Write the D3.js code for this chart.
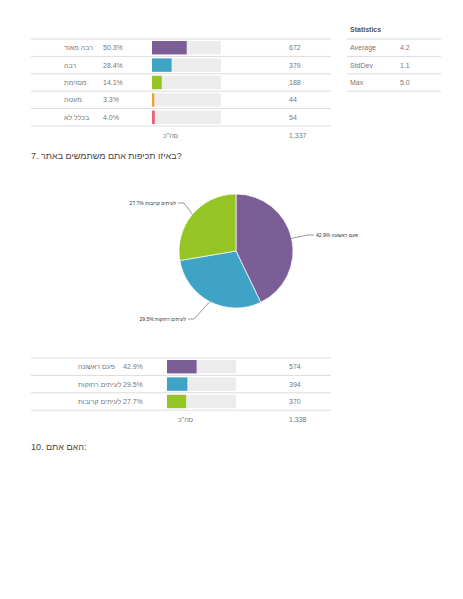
<!DOCTYPE html><html><head><meta charset="utf-8"><script src="https://cdn.jsdelivr.net/npm/d3@7"></script>
<style>body{margin:0;background:#fff}text{font-family:"Liberation Sans",Arial,sans-serif}</style></head><body><svg id="c" width="463" height="599"></svg>
<script>
const q6Labels=["רבה מאוד","רבה","מסוימת","מעטה","בכלל לא"];
const q6Pct=[50.3,28.4,14.1,3.3,4.0];
const q6Count=[672,379,188,44,54];
const q6Total="1,337";
const q6Colors=["#7b5e96","#3ea3c5","#95c425","#f0a030","#e8607a"];
const statLabels=["Average","StdDev","Max"];
const statValues=["4.2","1.1","5.0"];
const q7Labels=["פעם ראשונה","לעיתים רחוקות","לעיתים קרובות"];
const q7Pct=[42.9,29.5,27.7];
const q7Count=[574,394,370];
const q7Total="1,338";
const q7Colors=["#7b5e96","#3ea3c5","#95c425"];

const svg=d3.select("#c");
const grey="#777",line="#dcdcdc";
function table(y0,labels,pct,count,colors,total,labelX,pctX,barX){
  const y=d3.scaleBand().domain(d3.range(labels.length)).range([y0,y0+labels.length*17.4]);
  const w=d3.scaleLinear().domain([0,100]).range([0,69]);
  const g=svg.append("g");
  g.append("line").attr("x1",31).attr("x2",331).attr("y1",y0).attr("y2",y0).attr("stroke",line);
  labels.forEach((l,i)=>{
    const yy=y(i),bh=y.bandwidth();
    g.append("text").attr("x",labelX).attr("y",yy+bh/2+2.5).attr("text-anchor","end").attr("direction","rtl").attr("font-size",7).attr("fill",grey).text(l);
    g.append("text").attr("x",pctX).attr("y",yy+bh/2+2.5).attr("font-size",7).attr("fill",grey).text(pct[i].toFixed(1)+"%");
    g.append("rect").attr("x",barX).attr("y",yy+2).attr("width",69).attr("height",bh-4).attr("fill","#ececec");
    g.append("rect").attr("x",barX).attr("y",yy+2).attr("width",w(pct[i])).attr("height",bh-4).attr("fill",colors[i]);
    g.append("text").attr("x",289).attr("y",yy+bh/2+2.5).attr("font-size",7).attr("fill",grey).text(count[i]);
    g.append("line").attr("x1",31).attr("x2",331).attr("y1",yy+bh).attr("y2",yy+bh).attr("stroke",line);
  });
  const ty=y0+labels.length*17.4+12;
  g.append("text").attr("x",barX+11).attr("y",ty).attr("font-size",7).attr("fill",grey).attr("direction","rtl").attr("text-anchor","end").text('סה"כ');
  g.append("text").attr("x",289).attr("y",ty).attr("font-size",7).attr("fill",grey).text(total);
}
table(39,q6Labels,q6Pct,q6Count,q6Colors,q6Total,64,103,152);
table(358,q7Labels,q7Pct,q7Count,q7Colors,q7Total,78,123,167);

// statistics
svg.append("text").attr("x",350).attr("y",32).attr("font-size",7).attr("font-weight","bold").attr("fill","#555").text("Statistics");
svg.append("line").attr("x1",347).attr("x2",441).attr("y1",39).attr("y2",39).attr("stroke",line);
statLabels.forEach((s,i)=>{
  const yy=39+i*17.4;
  svg.append("text").attr("x",350).attr("y",yy+11.2).attr("font-size",7).attr("fill",grey).text(s);
  svg.append("text").attr("x",400).attr("y",yy+11.2).attr("font-size",7).attr("fill",grey).text(statValues[i]);
  svg.append("line").attr("x1",347).attr("x2",441).attr("y1",yy+17.4).attr("y2",yy+17.4).attr("stroke",line);
});

svg.append("text").attr("x",31).attr("y",159).attr("font-size",9).attr("fill","#444").text("7. באיזו תכיפות אתם משתמשים באתר?");
svg.append("text").attr("x",31).attr("y",450).attr("font-size",9).attr("fill","#444").text("10. האם אתם:");

// pie
const cx=236,cy=251,r=57;
const pie=d3.pie().sort(null)(q7Pct);
const arc=d3.arc().innerRadius(0).outerRadius(r);
const pg=svg.append("g").attr("transform",`translate(${cx},${cy})`);
pg.selectAll("path").data(pie).join("path").attr("d",arc).attr("fill",(d,i)=>q7Colors[i]).attr("stroke","#fff").attr("stroke-width",0.7);
const labelPos=[[78,-16],[-48,68],[-58,-48]];
pie.forEach((d,i)=>{
  const a=(d.startAngle+d.endAngle)/2;
  const p0=[Math.sin(a)*r,-Math.cos(a)*r];
  const [lx,ly]=labelPos[i];
  const right=lx>0;
  const mid=[lx+(right?-6:6),ly];
  pg.append("polyline").attr("points",[p0,mid,[lx,ly]].map(p=>p.join(",")).join(" ")).attr("fill","none").attr("stroke","#555").attr("stroke-width",0.6);
  pg.append("text").attr("x",right?lx+2:lx-2).attr("y",ly+2).attr("font-size",5).attr("fill","#333")
    .attr("text-anchor",right?"start":"end").text(q7Pct[i].toFixed(1)+"% "+q7Labels[i]);
});
</script></body></html>
